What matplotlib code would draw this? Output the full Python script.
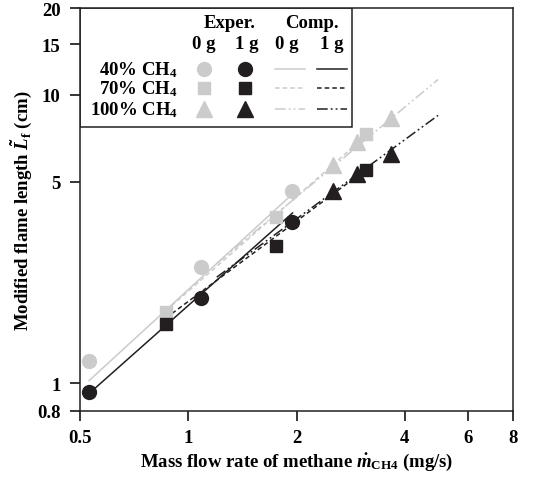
import matplotlib
matplotlib.use("Agg")
import matplotlib.pyplot as plt
from matplotlib.patches import Rectangle

plt.rcParams['font.family'] = 'Liberation Serif'
plt.rcParams['font.weight'] = 'bold'
plt.rcParams['axes.labelweight'] = 'bold'
plt.rcParams['mathtext.fontset'] = 'custom'
plt.rcParams['mathtext.rm'] = 'Liberation Serif:bold'
plt.rcParams['mathtext.it'] = 'Liberation Serif:italic:bold'
plt.rcParams['mathtext.bf'] = 'Liberation Serif:bold'

GRAY = '#cbcbcb'
BLACK = '#231f20'

# experimental points (mass flow rate mg/s, flame length cm)
x40 = [0.53, 1.085, 1.947]
y40_0g = [1.19, 2.52, 4.63]
y40_1g = [0.928, 1.97, 3.61]

x70 = [0.866, 1.754, 3.12]
y70_0g = [1.76, 3.78, 7.32]
y70_1g = [1.60, 3.00, 5.49]

x100 = [2.53, 2.95, 3.66]
y100_0g = [5.71, 6.85, 8.30]
y100_1g = [4.65, 5.32, 6.24]

# computed curves (end points)
cx40 = [0.53, 1.95]
cy40_0g = [1.02, 4.53]
cy40_1g = [0.92, 3.89]
cx70 = [0.866, 3.12]
cy70_0g = [1.78, 7.2]
cy70_1g = [1.68, 5.5]
cx100 = [1.2, 4.95]
cy100_0g = [2.6, 11.3]
cy100_1g = [2.33, 8.48]

xticks = [0.5, 1, 2, 4, 6, 8]
yticks = [0.8, 1, 5, 10, 15, 20]

DASH = (0, (3, 2))
DDOT = (0, (7, 2, 1.2, 2, 1.2, 2))

fig = plt.figure(figsize=(5.33, 4.81), dpi=100)
ax = fig.add_axes([80 / 533, 1 - 412 / 481, 433 / 533, 403 / 481])
ax.set_xscale('log')
ax.set_yscale('log')
ax.set_xlim(0.5, 8)
ax.set_ylim(0.8, 20)

lw = 1.1
ax.plot(cx40, cy40_0g, color=GRAY, lw=lw, ls='-')
ax.plot(cx40, cy40_1g, color=BLACK, lw=lw, ls='-')
ax.plot(cx70, cy70_0g, color=GRAY, lw=lw, ls=DASH)
ax.plot(cx70, cy70_1g, color=BLACK, lw=lw, ls=DASH)
ax.plot(cx100, cy100_0g, color=GRAY, lw=lw, ls=DDOT)
ax.plot(cx100, cy100_1g, color=BLACK, lw=lw, ls=DDOT)

ax.plot(x40, y40_0g, 'o', color=GRAY, ms=10, ls='none')
ax.plot(x40, y40_1g, 'o', color=BLACK, ms=10, ls='none')
ax.plot(x70, y70_0g, 's', color=GRAY, ms=9, ls='none')
ax.plot(x70, y70_1g, 's', color=BLACK, ms=9, ls='none')
ax.plot(x100, y100_0g, '^', color=GRAY, ms=11, ls='none')
ax.plot(x100, y100_1g, '^', color=BLACK, ms=11, ls='none')

ax.set_xticks(xticks)
ax.set_xticklabels([str(v) for v in xticks])
ax.set_yticks(yticks)
ax.set_yticklabels([str(v) for v in yticks])
ax.minorticks_off()
ax.tick_params(direction='out', length=7, width=1.1, labelsize=13.5)
ax.tick_params(axis='x', pad=6)
ax.tick_params(axis='y', pad=7)
for s in ax.spines.values():
    s.set_linewidth(1.1)
    s.set_color(BLACK)

ax.set_xlabel(r'Mass flow rate of methane $\it{\dot{m}}_{\rm{CH4}}$ (mg/s)',
              fontsize=13.5, labelpad=3)
ax.set_ylabel(r'Modified flame length $\it{\tilde{L}}_{\rm{f}}$ (cm)',
              fontsize=13.5, labelpad=2)

# legend table
T = ax.transAxes
ax.add_patch(Rectangle((0, 0.705), 0.628, 0.295, transform=T, fill=False,
                       lw=1.1, ec=BLACK, zorder=5))
fs = 13.5
ax.text(0.346, 0.965, 'Exper.', transform=T, ha='center', va='center', fontsize=fs)
ax.text(0.536, 0.965, 'Comp.', transform=T, ha='center', va='center', fontsize=fs)
for xx, lab in zip([0.286, 0.386, 0.478, 0.582], ['0 g', '1 g', '0 g', '1 g']):
    ax.text(xx, 0.911, lab, transform=T, ha='center', va='center', fontsize=fs)

rows = ['40% CH$_4$', '70% CH$_4$', '100% CH$_4$']
marks = ['o', 's', '^']
msz = [10, 9, 11]
styles = ['-', DASH, DDOT]
rowy = [0.849, 0.801, 0.749]
for lab, m, ms, st, yy in zip(rows, marks, msz, styles, rowy):
    ax.text(0.226, yy, lab, transform=T, ha='right', va='center', fontsize=fs)
    ax.plot([0.286], [yy], m, color=GRAY, ms=ms, transform=T)
    ax.plot([0.381], [yy], m, color=BLACK, ms=ms, transform=T)
    ax.plot([0.450, 0.520], [yy, yy], color=GRAY, lw=lw, ls=st, transform=T)
    ax.plot([0.547, 0.617], [yy, yy], color=BLACK, lw=lw, ls=st, transform=T)

fig.savefig('out.png', dpi=100)
